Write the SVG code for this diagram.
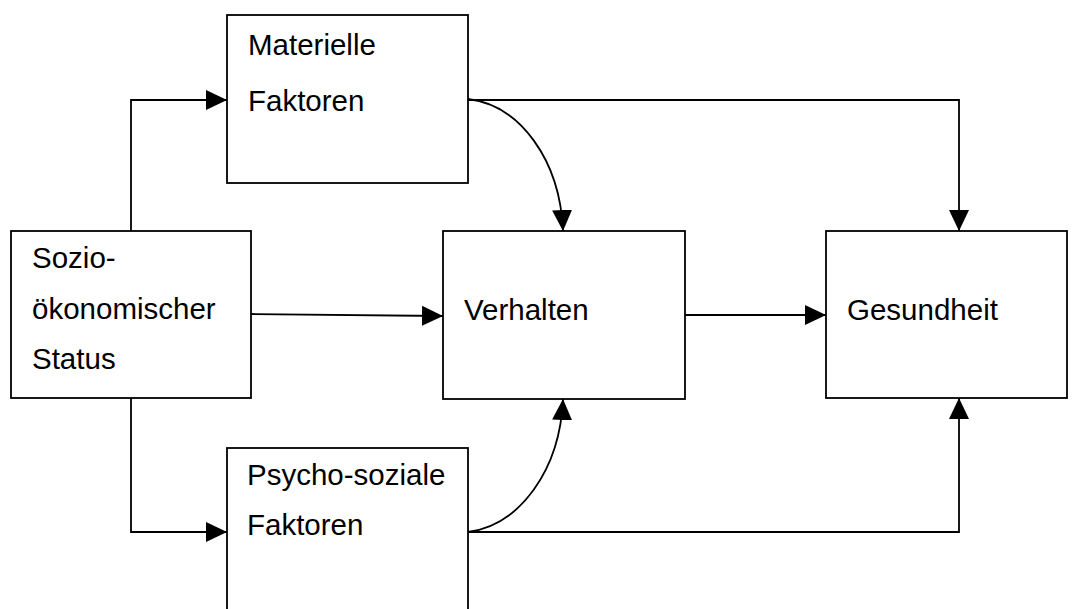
<svg xmlns="http://www.w3.org/2000/svg" width="1080" height="609" viewBox="0 0 1080 609">
<style>
.box{fill:#fff;stroke:#000;stroke-width:1.8}
.lbl{font-family:"Liberation Sans",Arial,sans-serif;font-size:29.5px;fill:#000}
.con{fill:none;stroke:#000;stroke-width:1.8}
</style>
<defs>
<marker id="ah" markerUnits="userSpaceOnUse" markerWidth="22" markerHeight="22" refX="21" refY="10" orient="auto">
<path d="M0,0 L21,10 L0,20 Z" fill="#000"/>
</marker>
</defs>
<rect width="1080" height="609" fill="#fff"/>
<g id="n-socio">
<rect class="box" x="11" y="231" width="240" height="167"/>
<text class="lbl" x="32" y="268">Sozio-</text>
<text class="lbl" x="32" y="319">ökonomischer</text>
<text class="lbl" x="32" y="369">Status</text>
</g>
<g id="n-materielle">
<rect class="box" x="227" y="15" width="241" height="168"/>
<text class="lbl" x="248" y="55">Materielle</text>
<text class="lbl" x="248" y="111">Faktoren</text>
</g>
<g id="n-verhalten">
<rect class="box" x="443" y="231" width="242" height="168"/>
<text class="lbl" x="464" y="320">Verhalten</text>
</g>
<g id="n-gesundheit">
<rect class="box" x="826" y="231" width="241" height="167"/>
<text class="lbl" x="847" y="320">Gesundheit</text>
</g>
<g id="n-psycho">
<rect class="box" x="227" y="448" width="241" height="175"/>
<text class="lbl" x="247" y="485">Psycho-soziale</text>
<text class="lbl" x="247" y="535">Faktoren</text>
</g>
<g id="connectors">
<path class="con" d="M131,231 L131,100 L227,100" marker-end="url(#ah)"/>
<path class="con" d="M131,398 L131,532 L227,532" marker-end="url(#ah)"/>
<path class="con" d="M251,314 L443,316" marker-end="url(#ah)"/>
<path class="con" d="M685,315 L826,315" marker-end="url(#ah)"/>
<path class="con" d="M468,100 L959,100 L959,231" marker-end="url(#ah)"/>
<path class="con" d="M468,532 L959,532 L959,398" marker-end="url(#ah)"/>
<path class="con" d="M468,99 C520,105 560,160 563,231" marker-end="url(#ah)"/>
<path class="con" d="M468,532 C520,525 560,470 563,399" marker-end="url(#ah)"/>
</g>
</svg>
